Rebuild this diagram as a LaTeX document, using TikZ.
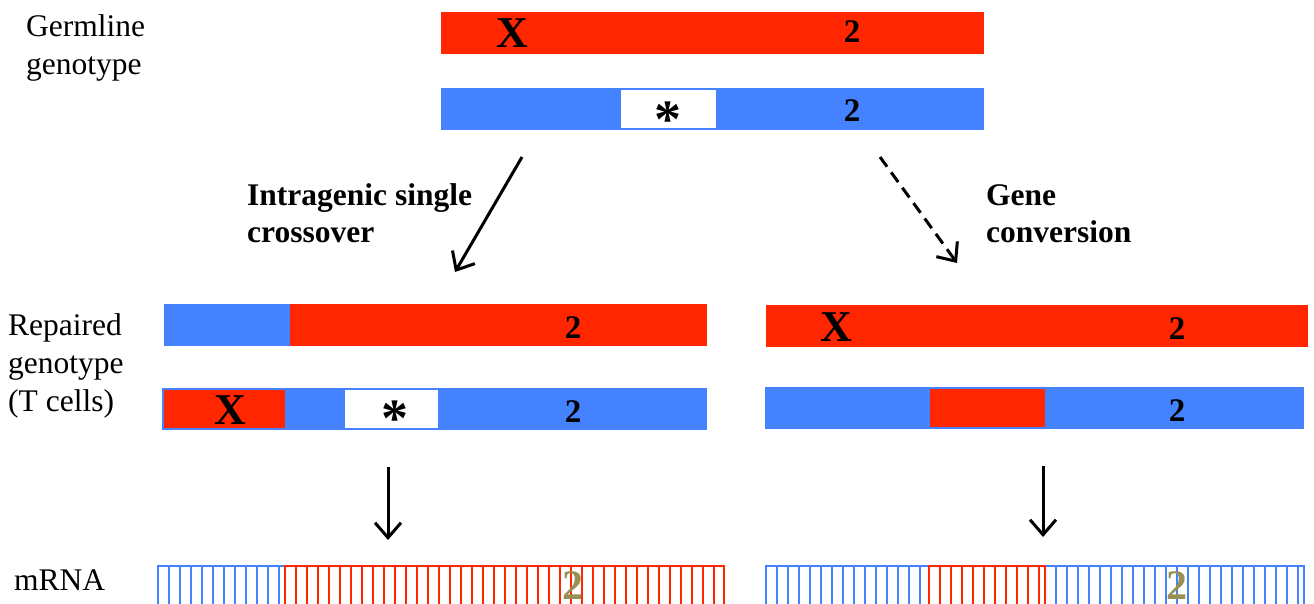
\documentclass[tikz,border=0pt]{standalone}
\usepackage{fontspec}
\setmainfont{Liberation Serif}
\usetikzlibrary{arrows.meta}
\definecolor{bred}{RGB}{255,38,0}
\definecolor{bblue}{RGB}{68,130,255}
\definecolor{olv}{RGB}{152,143,85}
\begin{document}
\begin{tikzpicture}[x=1pt,y=-1pt,
  bar/.style={rectangle,inner sep=0pt,outer sep=0pt,anchor=north west,minimum height=42pt},
  num/.style={inner sep=0pt,anchor=base,font=\bfseries\fontsize{33}{33}\selectfont},
  xmark/.style={inner sep=0pt,anchor=base,font=\bfseries\fontsize{44}{44}\selectfont},
  star/.style={inner sep=0pt,anchor=base,font=\bfseries\fontsize{54}{54}\selectfont},
  mnum/.style={inner sep=0pt,anchor=base,text=olv,font=\bfseries\fontsize{42}{42}\selectfont},
  lbl/.style={inner sep=0pt,anchor=base west,align=left,font=\fontsize{31.5}{38}\selectfont},
  blbl/.style={inner sep=0pt,anchor=base west,align=left,font=\bfseries\fontsize{31.5}{37}\selectfont},
  arr/.style={line width=3pt,-{Straight Barb[length=15pt,width=26pt]}},
  stripe/.style={line width=2.2pt}]
\useasboundingbox (0,0) rectangle (1314,604);
% labels (base anchor = baseline of last line)
\node[lbl] (lg) at (26,75) {Germline\\genotype};
\node[lbl] (lr) at (8,411) {Repaired\\genotype\\(T cells)};
\node[lbl] (lm) at (14,590) {mRNA};
\node[blbl] (lx) at (247,242) {Intragenic single\\crossover};
\node[blbl] (lc) at (986,242) {Gene\\conversion};
% germline bars
\node[bar,fill=bred,minimum width=543pt] (g1) at (441,12) {};
\node[bar,fill=bblue,minimum width=543pt] (g2) at (441,88) {};
\node[bar,fill=white,minimum width=95pt,minimum height=38pt] (g2w) at (621,90) {};
\node[xmark] (g1x) at (512,48) {X};
\node[num] (g1n) at (852,43) {2};
\node[star] (g2s) at (668,138) {*};
\node[num] (g2n) at (852,122) {2};
% left repaired
\node[bar,fill=bred,minimum width=543pt] (l1) at (164,304) {};
\node[bar,fill=bblue,minimum width=126pt] (l1b) at (164,304) {};
\node[num] (l1n) at (573,338) {2};
\node[bar,fill=bblue,minimum width=545pt] (l2) at (162,388) {};
\node[bar,fill=bred,minimum width=121pt,minimum height=38pt] (l2r) at (164,390) {};
\node[bar,fill=white,minimum width=93pt,minimum height=38pt] (l2w) at (345,390) {};
\node[xmark] (l2x) at (230,424) {X};
\node[star] (l2s) at (395,436) {*};
\node[num] (l2n) at (573,422) {2};
% right repaired
\node[bar,fill=bred,minimum width=542pt] (r1) at (766,305) {};
\node[xmark] (r1x) at (836,341) {X};
\node[num] (r1n) at (1177,339) {2};
\node[bar,fill=bblue,minimum width=539pt] (r2) at (765,387) {};
\node[bar,fill=bred,minimum width=115pt,minimum height=38pt] (r2r) at (930,389) {};
\node[num] (r2n) at (1177,421) {2};
% arrows
\coordinate (a1s) at (522,157); \coordinate (a1e) at (455,272);
\coordinate (a2s) at (880,157); \coordinate (a2e) at (957,263);
\coordinate (a3s) at (388,467); \coordinate (a3e) at (388,540);
\coordinate (a4s) at (1043,466); \coordinate (a4e) at (1043,537);
\draw[arr] (a1s) -- (a1e);
\draw[arr,dash pattern=on 12pt off 7pt] (a2s) -- (a2e);
\draw[arr] (a3s) -- (a3e);
\draw[arr] (a4s) -- (a4e);
% mRNA left
\draw[bblue,stripe] (158,606) -- (158,566) -- (285,566);
\foreach \x in {169,180,...,284} \draw[bblue,stripe] (\x,566) -- (\x,606);
\draw[bred,stripe] (285,606) -- (285,566) -- (724,566) -- (724,606);
\foreach \x in {296,307,...,720} \draw[bred,stripe] (\x,566) -- (\x,606);
\node[mnum] (m1n) at (573,599) {2};
% mRNA right
\draw[bblue,stripe] (766,606) -- (766,566) -- (1304,566) -- (1304,606);
\foreach \x in {777,788,...,926} \draw[bblue,stripe] (\x,566) -- (\x,606);
\foreach \x in {1056,1067,...,1300} \draw[bblue,stripe] (\x,566) -- (\x,606);
\draw[bred,stripe] (929,606) -- (929,566) -- (1045,566) -- (1045,606);
\foreach \x in {940,951,...,1040} \draw[bred,stripe] (\x,566) -- (\x,606);
\node[mnum] (m2n) at (1177,599) {2};
\end{tikzpicture}
\end{document}
